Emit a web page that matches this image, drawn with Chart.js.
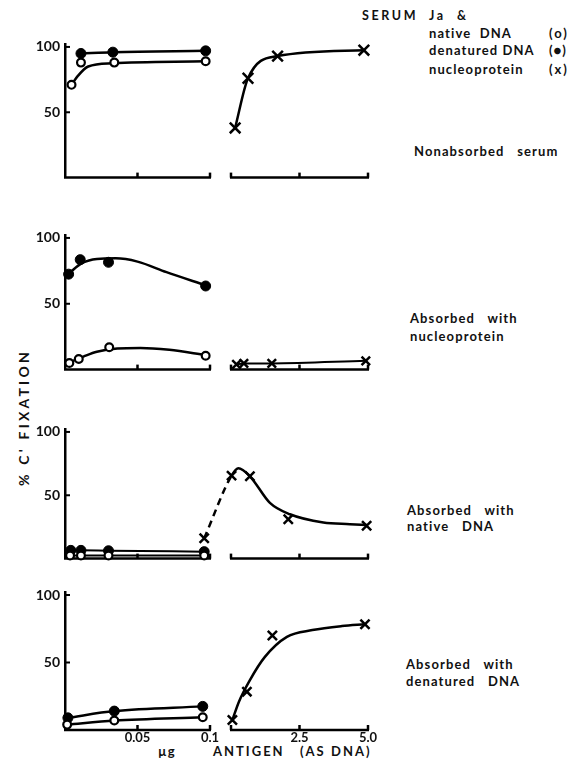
<!DOCTYPE html>
<html><head><meta charset="utf-8">
<script src="https://cdn.jsdelivr.net/npm/chart.js@4.4.1/dist/chart.umd.min.js"></script>
<style>
html,body{margin:0;padding:0;background:#fff;}
body{width:574px;height:760px;position:relative;overflow:hidden;font-family:Lato,'Open Sans',sans-serif;color:#000;}
canvas{position:absolute;left:0;}
.t{position:absolute;white-space:pre;font-size:13px;line-height:13px;letter-spacing:1.1px;font-weight:bold;color:#111;}
</style></head><body>
<div class="t" style="left:362px;top:9px;letter-spacing:2.6px;font-size:12.5px;">SERUM  Ja  &amp;</div>
<div class="t" style="left:429px;top:27px;">native  DNA</div><div class="t" style="left:549px;top:27px;letter-spacing:2px;">(o)</div>
<div class="t" style="left:429px;top:44px;">denatured DNA</div><div class="t" style="left:549px;top:44px;letter-spacing:1px;">(●)</div>
<div class="t" style="left:429px;top:63px;">nucleoprotein</div><div class="t" style="left:549px;top:63px;letter-spacing:2px;">(x)</div>
<div class="t" style="left:414px;top:145px;">Nonabsorbed   serum</div>
<div class="t" style="left:410px;top:312px;">Absorbed   with</div><div class="t" style="left:410px;top:330px;">nucleoprotein</div>
<div class="t" style="left:407px;top:504px;">Absorbed   with</div><div class="t" style="left:407px;top:520px;">native   DNA</div>
<div class="t" style="left:406px;top:658px;">Absorbed   with</div><div class="t" style="left:406px;top:675px;">denatured   DNA</div>
<div class="t" style="left:158px;top:745px;">µg</div>
<div class="t" style="left:213px;top:745px;letter-spacing:2px;">ANTIGEN</div>
<div class="t" style="left:300px;top:745px;letter-spacing:2px;">(AS</div>
<div class="t" style="left:331px;top:745px;letter-spacing:2px;">DNA)</div>
<div class="t" style="left:-47px;top:411px;width:140px;text-align:center;font-size:14px;letter-spacing:3.2px;transform:rotate(-90deg);">% C' FIXATION</div>
<script>
// ---------- data ----------
const yTicks = [50, 100];
const leftTicks = [0.05, 0.1];
const leftTickLabels = ["0.05", "0.1"];
const rightTicks = [2.5, 5.0];
const rightTickLabels = ["2.5", "5.0"];

// Panel 1: Nonabsorbed serum
const p1NativeX = [0.0045, 0.011, 0.034, 0.097];
const p1NativeY = [71, 88, 88, 89];
const p1NativeCurveX = [0.0045, 0.009, 0.016, 0.033, 0.097];
const p1NativeCurveY = [71, 78, 85, 87.5, 89];
const p1DenatX = [0.011, 0.033, 0.097];
const p1DenatY = [95, 96, 97];
const p1NucX = [0.15, 0.62, 1.7, 4.85];
const p1NucY = [38, 76, 93, 97.5];

// Panel 2: Absorbed with nucleoprotein
const p2NativeX = [0.003, 0.0095, 0.0305, 0.097];
const p2NativeY = [5, 8, 17, 10.5];
const p2NativeCurveX = [0.003, 0.013, 0.022, 0.036, 0.052, 0.072, 0.097];
const p2NativeCurveY = [5.5, 10, 13.5, 16, 16.5, 15, 11];
const p2DenatX = [0.0025, 0.0105, 0.030, 0.097];
const p2DenatY = [72.5, 83.5, 81.5, 63.5];
const p2DenatCurveX = [0.0025, 0.012, 0.022, 0.035, 0.05, 0.07, 0.097];
const p2DenatCurveY = [73, 81, 84, 84.5, 82, 74, 64];
const p2NucX = [0.2, 0.47, 1.49, 4.92];
const p2NucY = [4, 4.7, 4.7, 6.7];

// Panel 3: Absorbed with native DNA
const p3NativeX = [0.0035, 0.011, 0.030, 0.096];
const p3NativeY = [2.5, 2.5, 2.5, 2.5];
const p3DenatX = [0.004, 0.011, 0.030, 0.096];
const p3DenatY = [6.5, 6.5, 6.2, 5.5];
const p3NucLeftX = [0.096];
const p3NucLeftY = [16];
const p3NucX = [0.02, 0.69, 2.09, 4.95];
const p3NucY = [65.5, 65, 31, 26];
const p3NucCurveX = [0.02, 0.27, 0.69, 1.42, 2.15, 3.37, 4.34, 4.95];
const p3NucCurveY = [65.5, 71.3, 65, 44, 35, 28.5, 27.2, 26.5];

// Panel 4: Absorbed with denatured DNA
const p4NativeX = [0.0015, 0.034, 0.095];
const p4NativeY = [4, 7, 9.5];
const p4DenatX = [0.002, 0.034, 0.095];
const p4DenatY = [9, 14, 17.5];
const p4NucX = [0.05, 0.58, 1.51, 4.89];
const p4NucY = [7.4, 28.4, 70, 78.3];
const p4NucCurveX = [0.05, 0.29, 0.69, 1.23, 2.04, 2.97, 4.05, 4.89];
const p4NucCurveY = [7.4, 21, 37, 54, 69, 74, 77, 78.3];

// ---------- layout (broken x axis: 0-0.1 then 0-5.0) ----------
const LW = 145, RO = 166, RW = 137, XMAX = 303;
const L = v => v / 0.1 * LW;
const R = v => RO + v / 5 * RW;
const YMAX = 102;
const rows = [
  {base: 181, ppu: 1.34},
  {base: 373, ppu: 1.35},
  {base: 562, ppu: 1.30},
  {base: 730, ppu: 1.35}
];

const pts = (xs, ys, f) => xs.map((v, i) => ({x: f(v), y: ys[i]}));
const openS = {showLine:false, pointStyle:'circle', pointRadius:3.9, pointBackgroundColor:'#fff', pointBorderColor:'#000', pointBorderWidth:2.2, clip:false};
const fillS = {showLine:false, pointStyle:'circle', pointRadius:5, pointBackgroundColor:'#000', pointBorderColor:'#000', pointBorderWidth:1, clip:false};
const xS = r => ({showLine:false, pointStyle:'crossRot', pointRadius:r, pointBorderColor:'#000', pointBorderWidth:2.5, clip:false});
const curveS = {showLine:true, pointRadius:0, borderColor:'#000', borderWidth:2.5, tension:0.4, cubicInterpolationMode:'monotone', fill:false, clip:false};

const rowData = [
  [
    {...openS, data: pts(p1NativeX, p1NativeY, L)},
    {...fillS, data: pts(p1DenatX, p1DenatY, L)},
    {...xS(7.5), data: pts(p1NucX, p1NucY, R)},
    {...curveS, data: pts(p1NativeCurveX, p1NativeCurveY, L)},
    {...curveS, data: pts(p1DenatX, p1DenatY, L)},
    {...curveS, data: pts(p1NucX, p1NucY, R)}
  ],
  [
    {...openS, data: pts(p2NativeX, p2NativeY, L)},
    {...fillS, data: pts(p2DenatX, p2DenatY, L)},
    {...xS(6), data: pts(p2NucX, p2NucY, R)},
    {...curveS, data: pts(p2NativeCurveX, p2NativeCurveY, L)},
    {...curveS, data: pts(p2DenatCurveX, p2DenatCurveY, L)},
    {...curveS, borderWidth:2, data: pts(p2NucX, p2NucY, R)}
  ],
  [
    {...openS, data: pts(p3NativeX, p3NativeY, L)},
    {...fillS, data: pts(p3DenatX, p3DenatY, L)},
    {...xS(6.5), data: pts(p3NucLeftX, p3NucLeftY, L).concat(pts(p3NucX, p3NucY, R))},
    {...curveS, borderWidth:2, data: pts(p3NativeX, p3NativeY, L)},
    {...curveS, borderWidth:2, data: pts(p3DenatX, p3DenatY, L)},
    {...curveS, data: pts(p3NucLeftX, p3NucLeftY, L).concat(pts(p3NucCurveX, p3NucCurveY, R)),
      segment: {borderDash: c => c.p0DataIndex === 0 ? [7, 5] : undefined}}
  ],
  [
    {...openS, data: pts(p4NativeX, p4NativeY, L)},
    {...fillS, data: pts(p4DenatX, p4DenatY, L)},
    {...xS(6.5), data: pts(p4NucX, p4NucY, R)},
    {...curveS, data: pts(p4NativeX, p4NativeY, L)},
    {...curveS, data: pts(p4DenatX, p4DenatY, L)},
    {...curveS, data: pts(p4NucCurveX, p4NucCurveY, R)}
  ]
];

const axesPlugin = {
  id: 'panelAxes',
  beforeDatasetsDraw(chart) {
    const {ctx, scales: {x, y}} = chart;
    const yb = y.getPixelForValue(0);
    const xl = x.getPixelForValue(0);
    ctx.save();
    ctx.strokeStyle = '#000';
    ctx.lineWidth = 2.5;
    const segs = [
      {a: L(0), b: L(0.1), ticks: [L(0.05), L(0.1)]},
      {a: R(0), b: R(5), ticks: [R(0), R(2.5), R(5)]}
    ];
    segs.forEach(s => {
      ctx.beginPath();
      ctx.moveTo(x.getPixelForValue(s.a) - 1, yb);
      ctx.lineTo(x.getPixelForValue(s.b) + 1, yb);
      ctx.stroke();
      s.ticks.forEach(t => {
        const px = x.getPixelForValue(t);
        ctx.beginPath(); ctx.moveTo(px, yb); ctx.lineTo(px, yb - 5); ctx.stroke();
      });
    });
    ctx.lineWidth = 2;
    yTicks.forEach(v => {
      const py = y.getPixelForValue(v);
      ctx.beginPath(); ctx.moveTo(xl, py); ctx.lineTo(xl + 5, py); ctx.stroke();
    });
    ctx.restore();
  }
};

const PT = 14;
rows.forEach((r, i) => {
  const last = i === rows.length - 1;
  const chartTop = r.base - YMAX * r.ppu;
  const XH = last ? 16 : 0;
  const PB = last ? 2 : 10;
  const top = Math.round(chartTop - PT);
  const padTop = chartTop - top;
  const h = Math.round(r.base + XH + PB - top);
  const cv = document.createElement('canvas');
  cv.width = 400; cv.height = h;
  cv.style.top = top + 'px';
  cv.style.width = '400px'; cv.style.height = h + 'px';
  document.body.appendChild(cv);
  const xLabels = leftTickLabels.concat(rightTickLabels);
  new Chart(cv, {
    type: 'line',
    data: {datasets: rowData[i]},
    plugins: [axesPlugin],
    options: {
      responsive: false, animation: false, devicePixelRatio: 1,
      layout: {padding: {left: 25, right: 32, top: padTop, bottom: h - XH - (r.base - top)}},
      plugins: {legend: {display: false}, tooltip: {enabled: false}},
      events: [],
      scales: {
        x: {
          type: 'linear', min: 0, max: XMAX, display: last,
          grid: {display: false, drawTicks: false}, border: {display: false},
          afterBuildTicks: s => { s.ticks = leftTicks.map(L).concat(rightTicks.map(R)).map(v => ({value: v})); },
          afterFit: s => { s.height = XH; },
          ticks: {autoSkip: false, maxRotation: 0, padding: 0, color: '#111',
            font: {family: 'Lato', size: 13, weight: 'bold'},
            callback: (v, idx) => xLabels[idx]}
        },
        y: {
          min: 0, max: YMAX,
          grid: {display: false, drawTicks: false},
          border: {display: true, color: '#000', width: 2.5},
          afterBuildTicks: s => { s.ticks = yTicks.map(v => ({value: v})); },
          afterFit: s => { s.width = 40; },
          ticks: {padding: 5, color: '#111', font: {family: 'Lato', size: 14, weight: 'bold'}}
        }
      }
    }
  });
});
</script>
</body></html>
